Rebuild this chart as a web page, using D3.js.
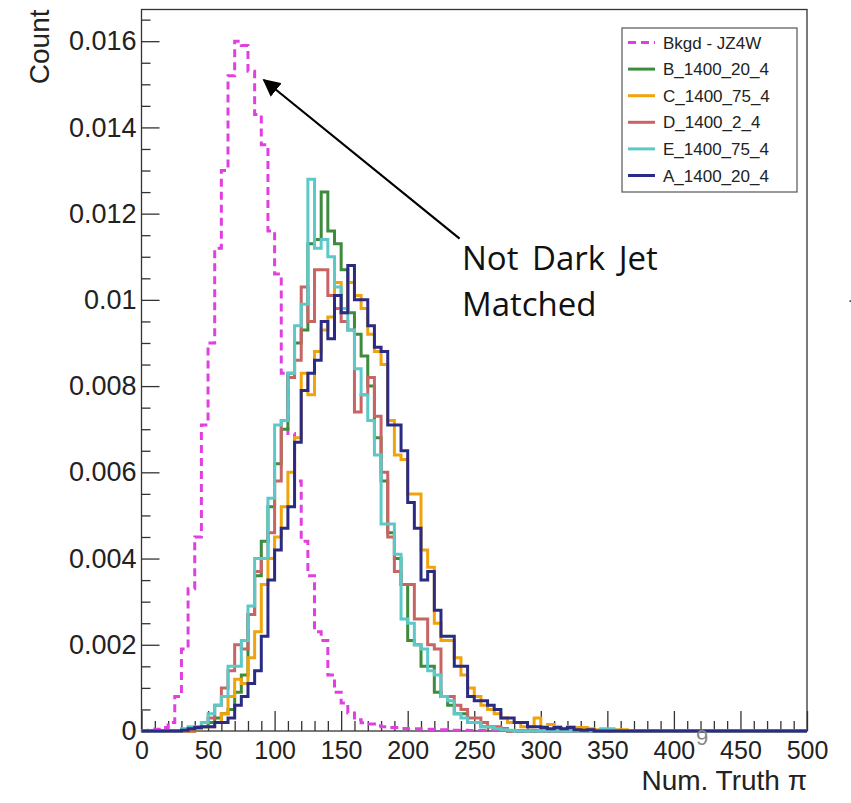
<!DOCTYPE html>
<html>
<head>
<meta charset="utf-8">
<script src="https://cdn.jsdelivr.net/npm/d3@7"></script>
<style>
  body { margin: 0; background: #fff; }
  svg { display: block; }
  .axis text { font-family: "Liberation Sans", Arial, sans-serif; fill: #222; }
  .axis line { stroke: #333; stroke-width: 1.3; }
</style>
</head>
<body>
<div id="chart"></div>
<script>
// bins of width 5 from 0 to 500, values are normalised counts
const binWidth = 5;
const xTicks = [0, 50, 100, 150, 200, 250, 300, 350, 400, 450, 500];
const yTicks = [0, 0.002, 0.004, 0.006, 0.008, 0.01, 0.012, 0.014, 0.016];

const seriesNames = ["Bkgd - JZ4W", "B_1400_20_4", "C_1400_75_4", "D_1400_2_4", "E_1400_75_4", "A_1400_20_4"];
const seriesColors = ["#e040e0", "#3d8b3d", "#f0a30a", "#c96464", "#5cc8c8", "#2b2b84"];

const bkgd = [0, 0.00002, 0.00004, 0.00008, 0.0002, 0.0008, 0.0019, 0.0033, 0.0045, 0.0071,
  0.0090, 0.0112, 0.0130, 0.0152, 0.0160, 0.0159, 0.0153, 0.0143, 0.0136, 0.0116,
  0.0106, 0.0083, 0.0069, 0.0058, 0.0044, 0.0036, 0.0023, 0.0021, 0.0013, 0.0009,
  0.00065, 0.00042, 0.00026, 0.00019, 0.00016, 0.00012, 0.0001, 0.00008, 0.00008, 0.00006,
  0.00005, 0.00005, 0.00004, 0.00004, 0.00003, 0.00003, 0.00002, 0.00002, 0.00002, 0.00001,
  0.00001, 0.00001, 0.00001, 0.00001, 0.00001, 0, 0, 0, 0, 0,
  0, 0, 0, 0, 0, 0, 0, 0, 0, 0,
  0, 0, 0, 0, 0, 0, 0, 0, 0, 0,
  0, 0, 0, 0, 0, 0, 0, 0, 0, 0,
  0, 0, 0, 0, 0, 0, 0, 0, 0, 0];

const sigB = [0, 0, 0, 0, 0, 0, 0, 0, 0.00005, 0.0001,
  0.0002, 0.0003, 0.0004, 0.0005, 0.0009, 0.0013, 0.0027, 0.0036, 0.0044, 0.0052,
  0.0062, 0.0070, 0.0083, 0.0090, 0.0093, 0.0113, 0.0114, 0.0125, 0.0116, 0.0113,
  0.0107, 0.0097, 0.0092, 0.0087, 0.0080, 0.0068, 0.0058, 0.0046, 0.0040, 0.0034,
  0.0021, 0.0020, 0.0015, 0.0015, 0.0009, 0.0008, 0.0006, 0.0004, 0.0004, 0.0002,
  0.0002, 0.0001, 0.0001, 0.00005, 0.00005, 0, 0, 0, 0, 0,
  0, 0, 0, 0, 0, 0, 0, 0, 0, 0,
  0, 0, 0, 0, 0, 0, 0, 0, 0, 0,
  0, 0, 0, 0, 0, 0, 0, 0, 0, 0,
  0, 0, 0, 0, 0, 0, 0, 0, 0, 0];

const sigC = [0, 0, 0, 0, 0, 0, 0, 0, 0.00005, 0.0001,
  0.0001, 0.0002, 0.0004, 0.0008, 0.0012, 0.0011, 0.0017, 0.0023, 0.0034, 0.0040,
  0.0045, 0.0052, 0.0060, 0.0068, 0.0083, 0.0078, 0.0088, 0.0093, 0.0096, 0.0104,
  0.0097, 0.0104, 0.0101, 0.0098, 0.0092, 0.0088, 0.0085, 0.0072, 0.0064, 0.0063,
  0.0055, 0.0055, 0.0042, 0.0038, 0.0025, 0.0021, 0.0021, 0.0017, 0.0013, 0.0010,
  0.0008, 0.0006, 0.0005, 0.0004, 0.0003, 0.0002, 0.0002, 0.0001, 0.0001, 0.0003,
  0.0001, 0.00015, 0.0001, 0.00005, 0.0001, 0.00008, 0.00008, 0.00005, 0.00003, 0.00003,
  0.00003, 0.00003, 0.00003, 0, 0, 0, 0, 0, 0, 0,
  0, 0, 0, 0, 0, 0, 0, 0, 0, 0,
  0, 0, 0, 0, 0, 0, 0, 0, 0, 0];

const sigD = [0, 0, 0, 0, 0, 0, 0, 0, 0.0001, 0.0002,
  0.0003, 0.0006, 0.0010, 0.0014, 0.0020, 0.0019, 0.0027, 0.0037, 0.0040, 0.0046,
  0.0058, 0.0072, 0.0082, 0.0086, 0.0103, 0.0095, 0.0107, 0.0107, 0.0101, 0.0098,
  0.0095, 0.0093, 0.0074, 0.0078, 0.0082, 0.0073, 0.0060, 0.0045, 0.0037, 0.0034,
  0.0034, 0.0026, 0.0026, 0.0020, 0.0019, 0.0008, 0.0008, 0.0006, 0.0005, 0.0003,
  0.0003, 0.0002, 0.0001, 0.0001, 0.00005, 0, 0, 0, 0, 0,
  0, 0, 0, 0, 0, 0, 0, 0, 0, 0,
  0, 0, 0, 0, 0, 0, 0, 0, 0, 0,
  0, 0, 0, 0, 0, 0, 0, 0, 0, 0,
  0, 0, 0, 0, 0, 0, 0, 0, 0, 0];

const sigE = [0, 0, 0, 0, 0, 0, 0.00005, 0.0001, 0.0001, 0.0002,
  0.0004, 0.0006, 0.0008, 0.0015, 0.0015, 0.0021, 0.0029, 0.0040, 0.0040, 0.0054,
  0.0071, 0.0072, 0.0083, 0.0094, 0.0099, 0.0128, 0.0112, 0.0114, 0.0110, 0.0103,
  0.0098, 0.0093, 0.0084, 0.0078, 0.0072, 0.0064, 0.0048, 0.0048, 0.0041, 0.0026,
  0.0025, 0.0020, 0.0019, 0.0014, 0.0013, 0.0008, 0.0007, 0.0004, 0.0003, 0.0002,
  0.0002, 0.0001, 0.0001, 0.00005, 0.00003, 0.00002, 0, 0, 0, 0,
  0, 0, 0, 0, 0, 0, 0, 0, 0, 0.00005,
  0.00005, 0, 0, 0, 0, 0, 0, 0, 0, 0,
  0, 0, 0, 0, 0, 0, 0, 0, 0, 0,
  0, 0, 0, 0, 0, 0, 0, 0, 0, 0];

const sigA = [0, 0, 0, 0, 0, 0, 0.00002, 0.00005, 0.00008, 0.0001,
  0.0001, 0.0002, 0.0002, 0.0003, 0.0006, 0.0008, 0.0011, 0.0014, 0.0022, 0.0035,
  0.0042, 0.0047, 0.0052, 0.0067, 0.0079, 0.0083, 0.0086, 0.0095, 0.0091, 0.0101,
  0.0097, 0.0108, 0.0100, 0.0100, 0.0094, 0.0089, 0.0088, 0.0071, 0.0071, 0.0065,
  0.0053, 0.0047, 0.0035, 0.0037, 0.0028, 0.0022, 0.0022, 0.0015, 0.0015, 0.0008,
  0.0007, 0.0007, 0.0006, 0.0005, 0.0003, 0.0003, 0.0002, 0.0002, 0.0001, 0.0001,
  0.00008, 0.00005, 0.00008, 0.00005, 0.00008, 0.00003, 0.00002, 0.00003, 0, 0,
  0, 0, 0, 0, 0, 0, 0, 0, 0, 0,
  0, 0, 0, 0, 0, 0, 0, 0, 0, 0,
  0, 0, 0, 0, 0, 0, 0, 0, 0, 0];

const seriesValues = [bkgd, sigB, sigC, sigD, sigE, sigA];

const width = 851, height = 803;
const frame = {left: 141.5, right: 807, top: 9.5, bottom: 731};

const svg = d3.select("#chart").append("svg")
  .attr("width", width)
  .attr("height", height);

const x = d3.scaleLinear().domain([0, 500]).range([frame.left, frame.right]);
const y = d3.scaleLinear().domain([0, 0.016735]).range([frame.bottom, frame.top]);

// frame
svg.append("rect")
  .attr("x", frame.left).attr("y", frame.top)
  .attr("width", frame.right - frame.left).attr("height", frame.bottom - frame.top)
  .attr("fill", "none").attr("stroke", "#333").attr("stroke-width", 1.3);

// y axis, ticks point into the frame
const yAxis = d3.axisLeft(y).tickValues(yTicks).tickSize(-18).tickSizeOuter(0).tickPadding(5)
  .tickFormat(d => d === 0 ? "0" : String(+d.toFixed(3)));
const gy = svg.append("g").attr("class", "axis").attr("transform", `translate(${frame.left},0)`).call(yAxis);
gy.select(".domain").remove();
gy.selectAll("text").style("font-size", "27px");

const yMinor = d3.range(0, 0.01674, 0.0005).filter(v => Math.abs(v / 0.002 - Math.round(v / 0.002)) > 1e-6);
svg.append("g").attr("class", "axis").attr("transform", `translate(${frame.left},0)`)
  .call(d3.axisLeft(y).tickValues(yMinor).tickSize(-9).tickFormat(""))
  .select(".domain").remove();

// x axis
const xAxis = d3.axisBottom(x).tickValues(xTicks).tickSize(-20).tickSizeOuter(0).tickPadding(10);
const gx = svg.append("g").attr("class", "axis").attr("transform", `translate(0,${frame.bottom})`).call(xAxis);
gx.select(".domain").remove();
gx.selectAll("text").style("font-size", "25px");

const xMinor = d3.range(10, 500, 10).filter(v => v % 50 !== 0);
svg.append("g").attr("class", "axis").attr("transform", `translate(0,${frame.bottom})`)
  .call(d3.axisBottom(x).tickValues(xMinor).tickSize(-10).tickFormat(""))
  .select(".domain").remove();

// axis titles
svg.append("text")
  .attr("transform", `translate(49,${frame.top}) rotate(-90)`)
  .attr("text-anchor", "end")
  .style("font-family", "Liberation Sans, Arial, sans-serif")
  .style("font-size", "28px").attr("fill", "#222")
  .text("Count");

svg.append("text")
  .attr("x", frame.right).attr("y", 790)
  .attr("text-anchor", "end")
  .style("font-family", "Liberation Sans, Arial, sans-serif")
  .style("font-size", "28px").attr("fill", "#222")
  .text("Num. Truth π");

// histograms
const line = d3.line().x(d => x(d[0])).y(d => y(d[1])).curve(d3.curveStepAfter);
const plot = svg.append("g");

seriesValues.forEach((vals, k) => {
  const pts = [[0, 0]];
  vals.forEach((v, i) => pts.push([i * binWidth, v]));
  pts.push([500, vals[vals.length - 1]]);
  pts.push([500, 0]);
  plot.append("path")
    .attr("d", line(pts))
    .attr("fill", "none")
    .attr("stroke", seriesColors[k])
    .attr("stroke-width", 3)
    .attr("stroke-dasharray", k === 0 ? "8,5" : null);
});

// legend
const legend = svg.append("g").attr("transform", "translate(622,28)");
legend.append("rect").attr("width", 175).attr("height", 164)
  .attr("fill", "#fff").attr("stroke", "#555").attr("stroke-width", 1.2);
seriesNames.forEach((name, k) => {
  const ly = 14.5 + k * 26.6;
  legend.append("line")
    .attr("x1", 6).attr("x2", 33).attr("y1", ly).attr("y2", ly)
    .attr("stroke", seriesColors[k]).attr("stroke-width", 3)
    .attr("stroke-dasharray", k === 0 ? "8,5" : null);
  legend.append("text")
    .attr("x", 41).attr("y", ly).attr("dy", "0.36em")
    .style("font-family", "Liberation Sans, Arial, sans-serif")
    .style("font-size", "17px").attr("fill", "#222")
    .text(name);
});

// annotation
svg.append("defs").append("marker")
  .attr("id", "arrow").attr("viewBox", "0 0 10 10")
  .attr("refX", 9).attr("refY", 5)
  .attr("markerWidth", 8).attr("markerHeight", 8)
  .attr("orient", "auto")
  .append("path").attr("d", "M0,0 L10,5 L0,10 Z").attr("fill", "#000");

svg.append("line")
  .attr("x1", x(239)).attr("y1", y(0.01142))
  .attr("x2", x(92)).attr("y2", y(0.0151))
  .attr("stroke", "#000").attr("stroke-width", 2.2)
  .attr("marker-end", "url(#arrow)");

const noteLines = ["Not Dark Jet", "Matched"];
noteLines.forEach((t, i) => {
  svg.append("text")
    .attr("x", 462).attr("y", 270 + i * 46)
    .style("font-family", "Open Sans, Noto Sans, sans-serif")
    .style("font-size", "33px").style("word-spacing", "5px").attr("fill", "#111")
    .text(t);
});

// stray marks in the picture
svg.append("text")
  .attr("x", 702).attr("y", 745).attr("text-anchor", "middle")
  .style("font-family", "Liberation Sans, Arial, sans-serif")
  .style("font-size", "22px").attr("fill", "#888")
  .text("9");
svg.append("text")
  .attr("x", 848).attr("y", 302)
  .style("font-family", "Liberation Sans, Arial, sans-serif")
  .style("font-size", "16px").attr("fill", "#444")
  .text(".");
</script>
</body>
</html>
